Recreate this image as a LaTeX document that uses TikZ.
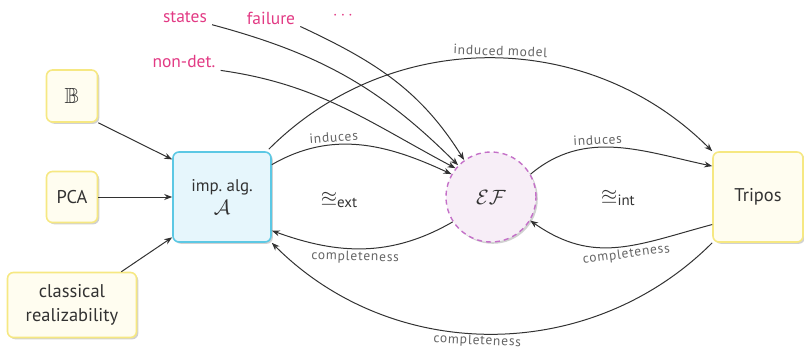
\documentclass[tikz,border=0pt]{standalone}
\usepackage{amssymb}
\usepackage{fontspec}
\setmainfont{PT Sans}
\usetikzlibrary{arrows.meta,shadows}
\definecolor{yborder}{RGB}{246,232,130}
\definecolor{yfill}{RGB}{255,253,240}
\definecolor{cborder}{RGB}{92,200,228}
\definecolor{cfill}{RGB}{230,246,252}
\definecolor{eborder}{RGB}{196,112,200}
\definecolor{efill}{RGB}{247,238,247}
\definecolor{pinkc}{RGB}{226,58,132}
\definecolor{arrc}{RGB}{50,50,50}
\definecolor{labc}{RGB}{100,100,100}
\definecolor{txtc}{RGB}{50,50,50}
\tikzset{
  shad/.style={drop shadow={shadow xshift=1.8bp, shadow yshift=-1.8bp, opacity=0.3, fill=black!60}},
  ybox/.style={shad, draw=yborder, fill=yfill, line width=1.6bp, rounded corners=6bp,
    align=center, inner sep=0pt, text=txtc, font=\fontsize{18.5}{24}\selectfont},
  abox/.style={shad, draw=cborder, fill=cfill, line width=1.6bp, rounded corners=6bp,
    align=center, inner sep=0pt, text=txtc, font=\fontsize{17}{22}\selectfont},
  efnode/.style={shad, circle, draw=eborder, fill=efill, line width=1.4bp,
    dash pattern=on 5bp off 4bp, inner sep=0pt, text=txtc, font=\fontsize{21}{24}\selectfont},
  plab/.style={text=pinkc, inner sep=2pt, font=\fontsize{17.5}{20}\selectfont},
  arr/.style={-{Stealth[length=8bp,width=6bp]}, draw=arrc, line width=1bp},
  elab/.style={text=labc, sloped, inner sep=2pt, font=\addfontfeature{LetterSpace=6}\fontsize{13.5}{15}\selectfont},
  eqlab/.style={text=txtc, font=\fontsize{16}{19}\selectfont}
}
\begin{document}
\begin{tikzpicture}[x=1bp,y=1bp]
\useasboundingbox (0,0) rectangle (804,349);
% nodes
\node[ybox, minimum width=51bp, minimum height=52bp] (B) at (72,253) {{\fontsize{22}{24}\selectfont$\mathbb{B}$}};
\node[ybox, minimum width=51bp, minimum height=51bp] (PCA) at (72,152) {PCA};
\node[ybox, minimum width=129bp, minimum height=65bp] (CR) at (72,44) {classical\\realizability};
\node[abox, minimum width=98bp, minimum height=90bp] (A) at (222,152) {imp.\ alg.\\[2pt]{\fontsize{20}{22}\selectfont$\mathcal{A}$}};
\node[efnode, minimum size=90bp] (EF) at (491,152) {$\mathcal{E}\mathcal{F}$};
\node[ybox, minimum width=90bp, minimum height=90bp] (T) at (758,152) {\raisebox{5bp}{Tripos}};
% pink labels
\node[plab] (states) at (185,332) {states};
\node[plab] (failure) at (271,331) {failure};
\node[plab] (dots) at (343,333) {$\cdots$};
\node[plab] (nondet) at (184,287) {non-det.};
% relation symbols
\node[eqlab] (ext) at (339,149) {{\fontsize{21}{21}\selectfont$\approxeq$}\raisebox{-3bp}{\fontsize{15}{15}\selectfont ext}};
\node[eqlab] (int) at (618,151) {{\fontsize{21}{21}\selectfont$\approxeq$}\raisebox{-3bp}{\fontsize{15}{15}\selectfont int}};
% inputs to A
\draw[arr] (B.south east) -- (A.143);
\draw[arr] (PCA.east) -- (A.west);
\draw[arr] (CR.34) -- (A.219);
% pink arrows
\draw[arr] ([xshift=3bp]states.south east) to[out=-15,in=135] (EF.136);
\draw[arr] ([xshift=3bp]failure.south east) to[out=-25,in=122] (EF.126);
\draw[arr] ([xshift=3bp]nondet.south east) to[out=-8,in=152] (EF.141);
% A <-> EF
\draw[arr] (A.33) to[out=30,in=155] node[elab, above, pos=0.35] {induces} (EF.150);
\draw[arr] (EF.213) to[out=210,in=-20] node[elab, below, pos=0.55] {completeness} (A.-34);
% EF <-> Tripos
\draw[arr] (EF.30) to[out=40,in=168] node[elab, above, pos=0.4] {induces} (T.146);
\draw[arr] (T.211) to[out=195,in=-35, looseness=1.1] node[elab, below, pos=0.45] {completeness} (EF.-31);
% A <-> Tripos
\coordinate (a1) at ([xshift=-3bp,yshift=2bp]A.north east);
\draw[arr] (a1) to[out=45,in=135] node[elab, above, pos=0.52] {induced model} (T.north west);
\draw[arr] (T.south west) to[out=-135,in=-45] node[elab, below, inner sep=1bp, pos=0.53] {completeness} (A.south east);
\end{tikzpicture}
\end{document}
